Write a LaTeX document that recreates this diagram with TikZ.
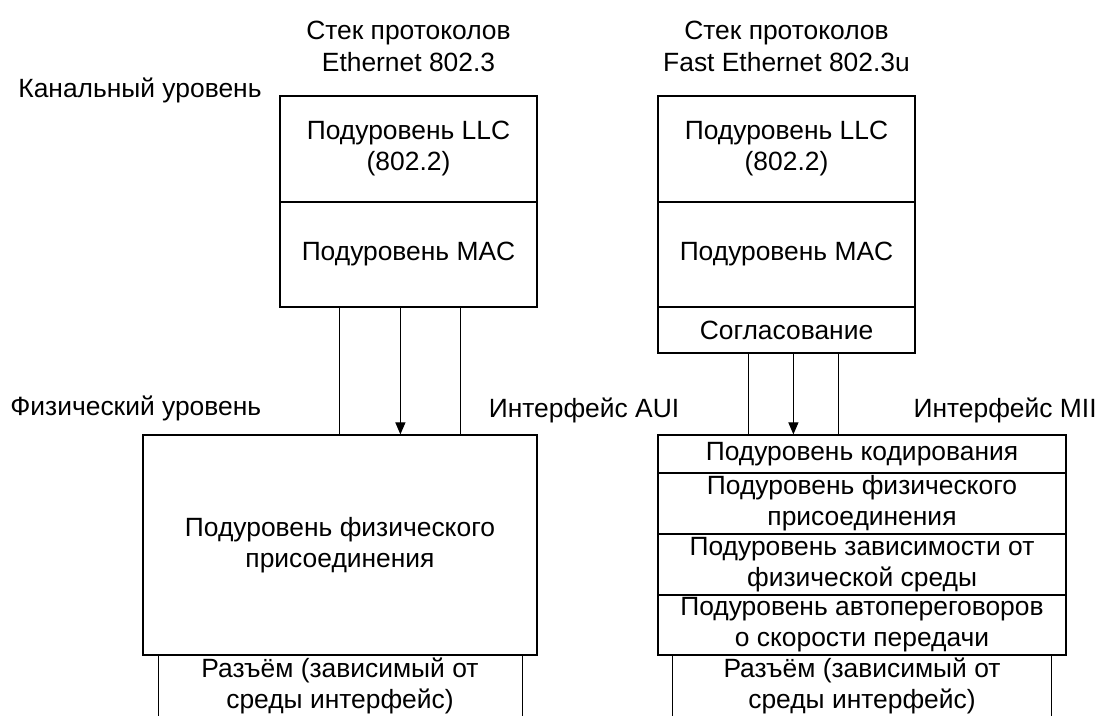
\documentclass[tikz,border=0pt]{standalone}
\usepackage{fontspec}
\setmainfont{Liberation Sans}
\usepackage{tikz}
\usetikzlibrary{arrows.meta,positioning}

\begin{document}
\begin{tikzpicture}[
  x=0.5pt, y=-0.5pt,
  every node/.style={font=\fontsize{13.2}{15.5}\selectfont},
  layer/.style 2 args={draw,rectangle,inner sep=0pt,align=center,
                       minimum width=#1,minimum height=#2},
  lbl/.style={inner sep=0pt,align=center},
  wire/.style={line width=0.6pt},
  e/.style={wire,-{Triangle[length=6pt,width=5pt]}}
]
\useasboundingbox (0,0) rectangle (1104,716);

% headings
\node[lbl] (hdrL) at (408.5,46) {Стек протоколов\\[0.5pt]Ethernet 802.3};
\node[lbl] (hdrR) at (786.5,46) {Стек протоколов\\[0.5pt]Fast Ethernet 802.3u};
\node[lbl,anchor=west] (dll) at (18,90) {Канальный уровень};
\node[lbl,anchor=west] (phy) at (10,408) {Физический уровень};
\node[lbl] (aui) at (584,410) {Интерфейс AUI};
\node[lbl,anchor=east] (mii) at (1097,410) {Интерфейс MII};

% Ethernet 802.3
\node[layer={128.5pt}{53pt},wire] (llcL) at (408.5,149) {Подуровень LLC\\(802.2)};
\node[layer={128.5pt}{52.5pt},wire] (macL) at (408.5,254.5) {Подуровень MAC};
\node[layer={197pt}{110pt},wire] (pmaL) at (340,545) {Подуровень физического\\присоединения};
\node[lbl] (mdiL) at (340,686) {Разъём (зависимый от\\среды интерфейс)};

% Fast Ethernet 802.3u
\node[layer={128.5pt}{53pt},wire] (llcR) at (786.5,149) {Подуровень LLC\\(802.2)};
\node[layer={128.5pt}{52.5pt},wire] (macR) at (786.5,254.5) {Подуровень MAC};
\node[layer={128.5pt}{23pt},wire] (rs) at (786.5,330) {Согласование};
\node[layer={204pt}{19pt},wire] (pcs) at (862,454) {Подуровень кодирования};
\node[layer={204pt}{30.5pt},wire] (pma) at (862,503.5) {Подуровень физического\\присоединения};
\node[layer={204pt}{30.5pt},wire] (pmd) at (862,564.5) {Подуровень зависимости от\\физической среды};
\node[layer={204pt}{30pt},wire] (an) at (862,625) {Подуровень автопереговоров\\о скорости передачи};
\node[lbl] (mdiR) at (862,686) {Разъём (зависимый от\\среды интерфейс)};

% AUI
\draw[wire] ([xshift=30pt]macL.south west) -- ([xshift=30pt]macL.south west |- pmaL.north);
\draw[e] ([xshift=60.5pt]macL.south west) -- ([xshift=60.5pt]macL.south west |- pmaL.north);
\draw[wire] ([xshift=90.5pt]macL.south west) -- ([xshift=90.5pt]macL.south west |- pmaL.north);

% MII
\draw[wire] ([xshift=45.5pt]rs.south west) -- ([xshift=45.5pt]rs.south west |- pcs.north);
\draw[e] ([xshift=68pt]rs.south west) -- ([xshift=68pt]rs.south west |- pcs.north);
\draw[wire] ([xshift=90.5pt]rs.south west) -- ([xshift=90.5pt]rs.south west |- pcs.north);

% connectors, open at the bottom
\draw[wire] ([xshift=8pt]pmaL.south west) -- ++(0,-31pt);
\draw[wire] ([xshift=-7.5pt]pmaL.south east) -- ++(0,-31pt);
\draw[wire] ([xshift=7.5pt]an.south west) -- ++(0,-31pt);
\draw[wire] ([xshift=-7.5pt]an.south east) -- ++(0,-31pt);
\end{tikzpicture}
\end{document}
